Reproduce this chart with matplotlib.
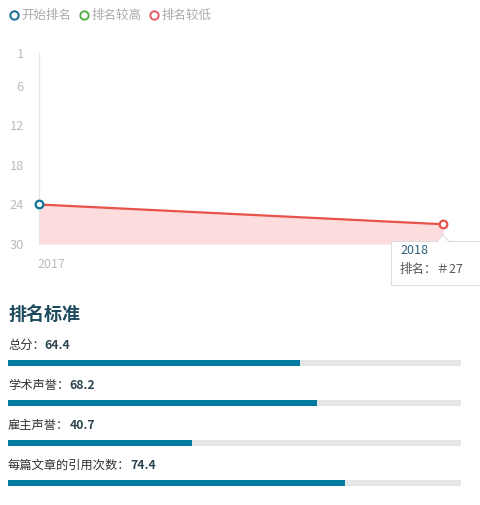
import matplotlib
matplotlib.use("Agg")
import matplotlib.pyplot as plt
from matplotlib.lines import Line2D
from matplotlib.patches import FancyBboxPatch, Polygon

plt.rcParams['font.family'] = ['Noto Sans CJK SC', 'DejaVu Sans']

# ranking history
years = [2017, 2018]
ranks = [24, 27]
rank_ticks = [1, 6, 12, 18, 24, 30]

legend_labels = ['开始排名', '排名较高', '排名较低']
legend_colors = ['#1a6e96', '#55b04c', '#e85a68']

# ranking criteria
crit_names = ['总分', '学术声誉', '雇主声誉', '每篇文章的引用次数']
crit_values = [64.4, 68.2, 40.7, 74.4]

W, H = 480, 505


def fx(px):
    return px / W


def fy(py):
    return 1 - py / H


def main():
    fig = plt.figure(figsize=(W / 100, H / 100), dpi=100)

    '''
    line chart
    '''
    ax = fig.add_axes([fx(39), fy(244), fx(443) - fx(39), fy(53) - fy(244)])
    ax.set_xlim(years[0], years[-1])
    ax.set_ylim(30, 1)
    ax.fill_between(years, ranks, 30, color='#fcdcdc', lw=0)
    ax.plot(years, ranks, color='#e8524a', lw=1.6, zorder=3)
    ax.plot(years[0], ranks[0], 'o', ms=5.5, mfc='white', mec='#0e7497', mew=1.6,
            zorder=4, clip_on=False)
    ax.plot(years[-1], ranks[-1], 'o', ms=5.5, mfc='white', mec='#e8524a', mew=1.6,
            zorder=4, clip_on=False)

    ax.set_yticks(rank_ticks)
    ax.set_yticklabels([str(t) for t in rank_ticks])
    ax.set_xticks(years)
    # the 2018 label sits under the tooltip, so only 2017 shows
    ax.set_xticklabels([str(years[0]), ''], ha='left')
    ax.tick_params(axis='y', length=0, pad=11, labelsize=9.2, labelcolor='#bbbbbb')
    ax.tick_params(axis='x', length=0, pad=10, labelsize=9, labelcolor='#bbbbbb')
    for s in ['top', 'right', 'bottom']:
        ax.spines[s].set_visible(False)
    ax.spines['left'].set_color('#e6e6e6')
    ax.spines['left'].set_linewidth(1)
    ax.set_facecolor('none')
    for lab in ax.get_xticklabels():
        lab.set_x(lab.get_position()[0])
        lab.set_transform(lab.get_transform() + matplotlib.transforms.ScaledTranslation(
            -2 / 100, 0, fig.dpi_scale_trans))

    handles = [Line2D([], [], marker='o', ls='', ms=6, mfc='white', mec=c, mew=1.4)
               for c in legend_colors]
    fig.legend(handles, legend_labels, loc='upper left', bbox_to_anchor=(fx(5), fy(4)),
               ncol=3, frameon=False, handlelength=0.6, handletextpad=0.3,
               columnspacing=0.7, fontsize=9, labelcolor='#aaaaaa', borderaxespad=0)

    # tooltip
    tip = FancyBboxPatch((fx(391), fy(285)), fx(100), fy(241) - fy(285),
                         boxstyle='square,pad=0', transform=fig.transFigure,
                         fc='white', ec='#dddddd', lw=0.8, zorder=10)
    fig.patches.append(tip)
    tri = Polygon([[fx(437), fy(241.5)], [fx(449), fy(241.5)], [fx(443), fy(235)]],
                  closed=True, transform=fig.transFigure, fc='white', ec='#dddddd',
                  lw=0.8, zorder=11)
    fig.patches.append(tri)
    fig.patches.append(Polygon([[fx(437.5), fy(242)], [fx(448.5), fy(242)], [fx(443), fy(237)]],
                               closed=True, transform=fig.transFigure, fc='white',
                               ec='none', zorder=12))
    fig.text(fx(400), fy(251), str(years[-1]), fontsize=9, color='#2b6078',
             va='center', ha='left', zorder=13)
    fig.text(fx(400), fy(269), '排名：＃' + str(ranks[-1]), fontsize=9, color='#555555',
             va='center', ha='left', zorder=13)

    '''
    criteria bars
    '''
    fig.text(fx(8), fy(314), '排名标准', fontsize=13, fontweight='bold',
             color='#1d4a5c', va='center', ha='left')

    bx = fig.add_axes([fx(8), fy(500), fx(461) - fx(8), fy(330) - fy(500)])
    bx.set_xlim(0, 100)
    bx.set_ylim(500, 330)
    bx.axis('off')
    for i, (name, val) in enumerate(zip(crit_names, crit_values)):
        ylab = 345 + 40 * i
        ybar = 363 + 40 * i
        bx.barh(ybar, 100, height=6, left=0, color='#e6e6e6', lw=0)
        bx.barh(ybar, val, height=6, left=0, color='#037aa0', lw=0)
        t = bx.text(0, ylab, name + '：', fontsize=8.8, color='#333333',
                    va='center', ha='left')
        bx.annotate('%.1f' % val, xy=(1, 0.5), xycoords=t, va='center', ha='left',
                    fontsize=8.8, fontweight='bold', color='#2c4550')

    fig.savefig('out.png', dpi=100, facecolor='white')


if __name__ == "__main__":
    main()
